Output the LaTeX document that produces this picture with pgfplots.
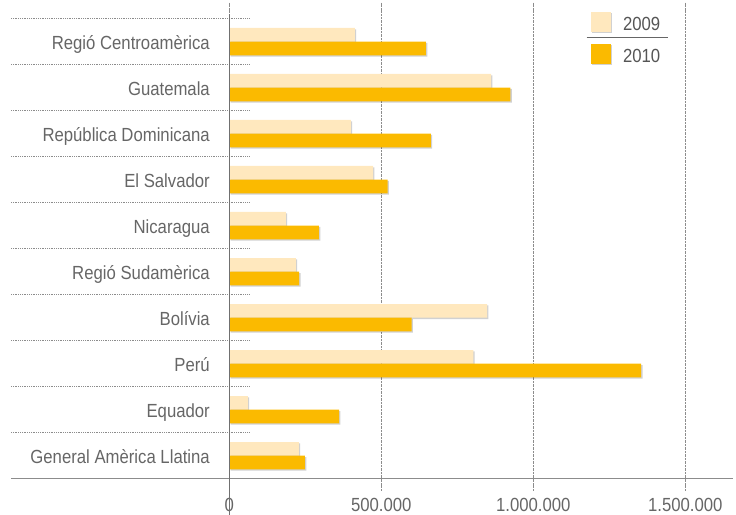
\documentclass[border=0pt]{standalone}
\usepackage{fontspec}
\setmainfont[FakeStretch=0.88]{Liberation Sans}
\usepackage{pgfplots}
\pgfplotsset{compat=1.18}
\usetikzlibrary{shadows}
\definecolor{bar09}{HTML}{FFE8BE}
\definecolor{bar10}{HTML}{FBBA00}
\definecolor{txt}{HTML}{666666}
\definecolor{legtxt}{HTML}{555555}
\definecolor{rule}{HTML}{8C8C8C}

\begin{document}
\begin{tikzpicture}[x=1pt,y=1pt]
\useasboundingbox (0,0) rectangle (736,514);
\begin{axis}[
  at={(229.3pt,35.3pt)}, anchor=south west,
  scale only axis, width=503.7pt, height=464.7pt,
  xbar, bar width=13.7pt,
  xmin=0, xmax=1657000,
  ymin=-0.602, ymax=9.5, y dir=reverse,
  ytick={0,...,9},
  yticklabels={Regió Centroamèrica,Guatemala,República Dominicana,El Salvador,Nicaragua,Regió Sudamèrica,Bolívia,Perú,Equador,General Amèrica Llatina},
  xtick={0,500000,1000000,1500000},
  xticklabels={0,500.000,1.000.000,1.500.000},
  scaled x ticks=false,
  axis line style={draw=none},
  xmajorgrids, grid style={densely dotted, rule, line width=0.8pt},
  tick align=outside, major tick length=11.3pt,
  xtick style={densely dotted, rule, line width=0.8pt},
  ytick style={draw=none},
  ticklabel style={font=\fontsize{19}{22}\selectfont, text=txt},
  yticklabel style={anchor=base east, inner sep=0pt, xshift=-8pt, yshift=-7.5pt},
  xticklabel style={anchor=base, inner sep=0pt, yshift=-21pt},
  clip=false,
  legend style={at={(axis description cs:0.7181,1.0043)}, anchor=north west,
    draw=none, fill=none, inner sep=0pt, outer sep=0pt,
    row sep=12pt, column sep=12pt,
    nodes={inner sep=0pt, font=\fontsize{19}{22}\selectfont, text=legtxt}},
  legend cell align=left,
  legend image code/.code={\path[#1] (0pt,-7.7pt) rectangle (20pt,12.3pt);},
]
% 2009
\addplot[fill=bar09, draw=none, bar shift=6.85pt,
  drop shadow={shadow xshift=1.3pt, shadow yshift=-1.3pt, opacity=0.18, fill=black}]
  coordinates {
  (413000,0) (861000,1) (400000,2) (473000,3) (186000,4)
  (219000,5) (848000,6) (803000,7) (61000,8) (229000,9)
};
% 2010
\addplot[fill=bar10, draw=none, bar shift=-6.85pt,
  drop shadow={shadow xshift=1.3pt, shadow yshift=-1.3pt, opacity=0.18, fill=black}]
  coordinates {
  (647000,0) (925000,1) (663000,2) (521000,3) (295000,4)
  (230000,5) (600000,6) (1355000,7) (361000,8) (249000,9)
};
\legend{2009,2010}

% separators between the categories
\pgfplotsinvokeforeach{-0.5,0.5,1.5,2.5,3.5,4.5,5.5,6.5,7.5,8.5}{
  \draw[densely dotted, rule, line width=0.8pt] (axis cs:-718100,#1) -- (axis cs:64800,#1);
}
\draw[rule, line width=1.2pt] (axis cs:-718100,9.5) -- (axis cs:1657000,9.5);
\draw[rule!80!black, line width=1pt] (axis cs:0,-0.602) -- (axis cs:0,9.5) -- ++(0,-11.3pt);
% legend rule
\draw[txt, line width=0.9pt] (axis description cs:0.7096,0.94986) -- (axis description cs:0.8704,0.94986);
\end{axis}
\end{tikzpicture}
\end{document}
